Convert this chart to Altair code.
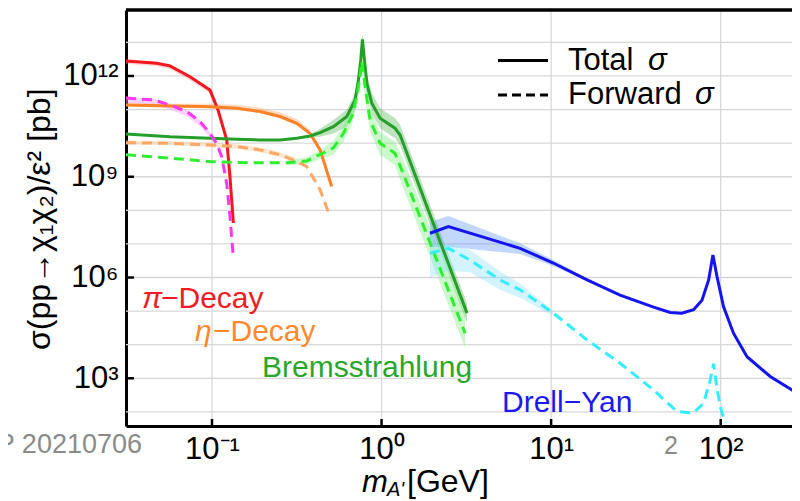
import altair as alt
import pandas as pd

# ---------------- data ----------------
# pi-decay, total
pi_x = [0.0311, 0.0472, 0.0565, 0.0741, 0.0973, 0.1084, 0.1221, 0.1276, 0.1337]
pi_y = [2.8e12, 2.4e12, 2.0e12, 9.5e11, 3.8e11, 9.8e10, 1.26e10, 1.0e9, 4.2e7]
pi_band_x = [0.0311, 0.0472, 0.0565, 0.0741, 0.0973, 0.1084]
pi_band_lo = [2.3e12, 1.95e12, 1.6e12, 7.5e11, 3.0e11, 8.5e10]
pi_band_hi = [3.1e12, 2.6e12, 2.2e12, 1.05e12, 4.2e11, 1.05e11]
# pi-decay, forward
pif_x = [0.0311, 0.0451, 0.0565, 0.071, 0.0849, 0.0973, 0.1066, 0.114, 0.1221, 0.1277, 0.1337]
pif_y = [2.2e11, 1.93e11, 1.37e11, 8.7e10, 4.4e10, 1.96e10, 9.8e9, 4.0e9, 6.4e8, 6.5e7, 3.6e6]
pif_band_x = [0.0311, 0.0451, 0.0565, 0.071, 0.0849, 0.0973, 0.1066]
pif_band_lo = [1.6e11, 1.4e11, 1.0e11, 6.3e10, 3.2e10, 1.5e10, 8.0e9]
pif_band_hi = [2.4e11, 2.1e11, 1.5e11, 9.5e10, 4.8e10, 2.1e10, 1.05e10]
# eta-decay, total
eta_x = [0.0311, 0.0565, 0.0973, 0.140, 0.192, 0.252, 0.316, 0.379, 0.434, 0.508]
eta_y = [1.37e11, 1.28e11, 1.22e11, 1.1e11, 8.7e10, 6.2e10, 3.9e10, 1.95e10, 6.3e9, 5.1e8]
eta_band_x = [0.0311, 0.0565, 0.0973, 0.140, 0.192, 0.252, 0.316, 0.379]
eta_band_lo = [1.27e11, 1.18e11, 1.12e11, 1.0e11, 7.8e10, 5.5e10, 3.4e10, 1.7e10]
eta_band_hi = [1.55e11, 1.5e11, 1.48e11, 1.4e11, 1.15e11, 8.3e10, 5.2e10, 2.5e10]
# eta-decay, forward
etaf_x = [0.0311, 0.0565, 0.0973, 0.140, 0.192, 0.252, 0.302, 0.362, 0.434, 0.497]
etaf_y = [1.03e10, 9.9e9, 8.8e9, 7.9e9, 6.3e9, 4.5e9, 3.2e9, 2.0e9, 4.1e8, 6.5e7]
etaf_band_x = [0.0311, 0.0565, 0.0973, 0.140, 0.192, 0.252, 0.302]
etaf_band_lo = [9.0e9, 8.6e9, 7.6e9, 6.8e9, 5.4e9, 3.8e9, 2.7e9]
etaf_band_hi = [1.2e10, 1.15e10, 1.03e10, 9.3e9, 7.5e9, 5.4e9, 3.9e9]
# Bremsstrahlung, total
br_x = [0.0311, 0.0565, 0.0973, 0.140, 0.192, 0.252, 0.316, 0.379, 0.434, 0.520, 0.624,
        0.698, 0.730, 0.754, 0.771, 0.793, 0.819, 0.876, 0.980, 1.20, 1.286, 3.19]
br_y = [1.88e10, 1.56e10, 1.4e10, 1.31e10, 1.24e10, 1.24e10, 1.4e10, 1.64e10, 2.05e10, 3.1e10, 6.2e10,
        1.93e11, 7.6e11, 3.0e12, 1.23e13, 3.0e12, 6.0e11, 1.54e11, 5.5e10, 2.8e10, 1.74e10, 8.7e4]
br_band_x = [0.379, 0.434, 0.520, 0.624, 0.698, 0.730, 0.754, 0.771, 0.793, 0.819, 0.876, 0.980, 1.20, 1.286, 3.19]
br_band_lo = [1.46e10, 1.55e10, 1.95e10, 3.1e10, 1.0e11, 4.8e11, 2.1e12, 9.8e12, 1.9e12, 3.0e11, 7.7e10, 2.8e10, 1.4e10, 8.7e9, 4.4e4]
br_band_hi = [1.84e10, 2.7e10, 4.9e10, 1.0e11, 3.0e11, 1.2e12, 4.2e12, 2.0e13, 4.8e12, 1.2e12, 3.1e11, 1.1e11, 5.6e10, 3.5e10, 1.7e5]
# Bremsstrahlung, forward
brf_x = [0.0311, 0.0565, 0.1, 0.175, 0.277, 0.362, 0.452, 0.520, 0.596, 0.667, 0.715, 0.747,
         0.764, 0.800, 0.855, 0.980, 1.20, 1.316, 3.11]
brf_y = [4.5e9, 3.6e9, 2.8e9, 2.6e9, 2.6e9, 2.95e9, 5.1e9, 7.2e9, 1.96e10, 6.2e10, 2.4e11, 9.5e11,
         2.7e12, 4.8e11, 4.9e10, 1.0e10, 5.0e9, 1.6e9, 2.2e4]
brf_band_x = [0.277, 0.362, 0.452, 0.520, 0.596, 0.667, 0.715, 0.747, 0.764, 0.800, 0.855, 0.980, 1.20, 1.316, 3.11]
brf_band_lo = [2.2e9, 2.3e9, 3.6e9, 4.5e9, 1.1e10, 3.5e10, 1.4e11, 6.0e11, 1.9e12, 2.4e11, 2.2e10, 4.5e9, 2.2e9, 6.0e8, 8.0e3]
brf_band_hi = [3.1e9, 3.8e9, 7.2e9, 1.15e10, 3.3e10, 1.1e11, 4.0e11, 1.5e12, 4.5e12, 9.6e11, 1.1e11, 2.2e10, 1.1e10, 4.0e9, 8.0e4]
# Drell-Yan, total
dy_x = [1.93, 2.48, 6.56, 10.3, 16.3, 25.5, 40.2, 50.4, 59.0, 69.2, 77.6, 84.9, 90.0, 95.1, 104, 119, 143, 196, 294]
dy_y = [2.08e7, 3.3e7, 7.4e6, 2.7e6, 8.5e5, 3.0e5, 1.31e5, 9.1e4, 8.7e4, 1.1e5, 2.1e5, 8.5e5, 4.7e6, 1.07e6,
        1.35e5, 2.2e4, 4.4e3, 1.13e3, 3.2e2]
dy_band_x = [1.93, 2.48, 6.56, 10.3, 16.3]
dy_band_lo = [8.3e6, 8.3e6, 5.0e6, 2.2e6, 7.8e5]
dy_band_hi = [4.6e7, 6.8e7, 1.05e7, 3.3e6, 9.3e5]
# Drell-Yan, forward
dyf_x = [1.93, 2.48, 3.33, 5.0, 6.56, 10.3, 16.3, 25.5, 40.2, 55.2, 69.2, 79.3, 86.8, 90.8, 95.1, 99.4, 106]
dyf_y = [5.3e6, 7.4e6, 3.3e6, 8.5e5, 4.3e5, 8.7e4, 1.38e4, 2.8e3, 4.5e2, 1.02e2, 93, 1.8e2, 8.9e2, 2.7e3,
         5.1e2, 1.44e2, 46]
dyf_band_x = [1.93, 2.48, 3.33, 5.0, 6.56, 10.3]
dyf_band_lo = [1.0e6, 1.6e6, 1.4e6, 4.3e5, 2.5e5, 7.0e4]
dyf_band_hi = [1.0e7, 1.0e7, 6.6e6, 1.5e6, 6.5e5, 1.05e5]

x_grid = [0.1, 1, 10, 100]
y_grid = [1e2, 1e3, 1e4, 1e5, 1e6, 1e7, 1e8, 1e9, 1e10, 1e11, 1e12, 1e13]
y_ticks = [1e3, 1e6, 1e9, 1e12]

# ---------------- layout ----------------
W, H = 666, 416
FONT = "Liberation Sans"

xscale = alt.Scale(type="log", domain=[0.0311, 263.4], nice=False)
yscale = alt.Scale(type="log", domain=[38, 9.2e13], nice=False)

xaxis = alt.Axis(values=x_grid, grid=False, ticks=False, domainColor="black", domainWidth=3,
                 labelFont=FONT, labelFontSize=31, labelColor="black", labelPadding=8,
                 labelExpr="datum.value < 0.5 ? '10⁻¹' : datum.value < 5 ? '10⁰' : datum.value < 50 ? '10¹' : '10²'",
                 title=None)
yaxis = alt.Axis(values=y_ticks, grid=False, ticks=False, domainColor="black", domainWidth=3,
                 labelFont=FONT, labelFontSize=31, labelColor="black", labelPadding=8,
                 labelExpr="datum.value < 10000 ? '10³' : datum.value < 10000000 ? '10⁶' : datum.value < 10000000000 ? '10⁹' : '10¹²'",
                 title=None)


def X(field):
    return alt.X(field, type="quantitative", scale=xscale, axis=xaxis)


def Y(field):
    return alt.Y(field, type="quantitative", scale=yscale, axis=yaxis)


def line(xs, ys, color, dash=None):
    df = pd.DataFrame({"x": xs, "y": ys})
    kw = dict(color=color, strokeWidth=3, clip=True)
    if dash:
        kw["strokeDash"] = dash
    return alt.Chart(df).mark_line(**kw).encode(x=X("x"), y=Y("y"))


def band(xs, lo, hi, color, opacity):
    df = pd.DataFrame({"x": xs, "lo": lo, "hi": hi})
    return alt.Chart(df).mark_area(color=color, opacity=opacity, clip=True).encode(
        x=X("x"), y=Y("lo"), y2="hi")


def text(s, x, y, size=30, color="black", align="left", baseline="alphabetic", angle=None, style=None):
    kw = dict(text=s, font=FONT, fontSize=size, color=color, align=align, baseline=baseline)
    if angle is not None:
        kw["angle"] = angle
    if style:
        kw["fontStyle"] = style
    return alt.Chart(pd.DataFrame({"a": [0]})).mark_text(**kw).encode(x=alt.value(x), y=alt.value(y))


grid_x = alt.Chart(pd.DataFrame({"v": x_grid})).mark_rule(color="#d8d8d8", strokeWidth=1.3).encode(x=X("v"))
grid_y = alt.Chart(pd.DataFrame({"v": y_grid})).mark_rule(color="#d8d8d8", strokeWidth=1.3, clip=True).encode(y=Y("v"))
tick_y = alt.Chart(pd.DataFrame({"v": y_ticks})).mark_rule(color="black", strokeWidth=2.5).encode(
    y=Y("v"), x=alt.value(0), x2=alt.value(8))
tick_x = alt.Chart(pd.DataFrame({"v": x_grid})).mark_rule(color="black", strokeWidth=2.5).encode(
    x=X("v"), y=alt.value(H - 7), y2=alt.value(H))
top_border = alt.Chart(pd.DataFrame({"a": [0]})).mark_rule(color="black", strokeWidth=3.5).encode(
    x=alt.value(0), x2=alt.value(W), y=alt.value(0))

RED, MAG, ORA, LORA = "#f5161f", "#ff38f0", "#ff8226", "#ffa866"
DGRN, LGRN, BLUE, CYAN = "#24a02a", "#2df02d", "#1414f0", "#33eeff"
DASH = [10, 6]

layers = [
    grid_x, grid_y,
    band(pi_band_x, pi_band_lo, pi_band_hi, "#ff8a8a", 0.35),
    band(pif_band_x, pif_band_lo, pif_band_hi, "#ff99ff", 0.45),
    band(eta_band_x, eta_band_lo, eta_band_hi, "#ffb27a", 0.45),
    band(etaf_band_x, etaf_band_lo, etaf_band_hi, "#ffcc99", 0.45),
    band(br_band_x, br_band_lo, br_band_hi, "#45b045", 0.35),
    band(brf_band_x, brf_band_lo, brf_band_hi, "#7ef07e", 0.4),
    band(dy_band_x, dy_band_lo, dy_band_hi, "#4d8ff5", 0.35),
    band(dyf_band_x, dyf_band_lo, dyf_band_hi, "#80e0ff", 0.35),
    line(pi_x, pi_y, RED),
    line(eta_x, eta_y, ORA),
    line(br_x, br_y, DGRN),
    line(dy_x, dy_y, BLUE),
    line(pif_x, pif_y, MAG, DASH),
    line(etaf_x, etaf_y, LORA, DASH),
    line(brf_x, brf_y, LGRN, DASH),
    line(dyf_x, dyf_y, CYAN, DASH),
    tick_y, tick_x, top_border,
    # legend
    alt.Chart(pd.DataFrame({"a": [0]})).mark_rule(color="black", strokeWidth=3).encode(
        x=alt.value(372), x2=alt.value(422), y=alt.value(50.5)),
    alt.Chart(pd.DataFrame({"a": [0]})).mark_rule(color="black", strokeWidth=3, strokeDash=[9, 5]).encode(
        x=alt.value(372), x2=alt.value(422), y=alt.value(85)),
    text("Total", 442, 50.5, size=31, baseline="middle"),
    text("σ", 522, 50.5, size=31, baseline="middle", style="italic"),
    text("Forward", 442, 85, size=31, baseline="middle"),
    text("σ", 569, 85, size=31, baseline="middle", style="italic"),
    # series labels
    text("π", 16, 298, size=30, color="#ee1c24", style="italic"),
    text("−Decay", 35, 298, size=30, color="#ee1c24"),
    text("η", 69, 330.5, size=30, color="#ff8a2e", style="italic"),
    text("−Decay", 87, 330.5, size=30, color="#ff8a2e"),
    text("Bremsstrahlung", 136, 367, size=30, color="#2aa62a"),
    text("Drell−Yan", 376, 401.5, size=30, color="#1a1af0"),
    # axis titles
    text("σ(pp→χ₁χ₂)/ε² [pb]", -86, 340, size=32, align="left", baseline="middle", angle=270),
    text("m", 236, 481.5, size=31, style="italic"),
    text("A'", 261, 485.5, size=20, style="italic"),
    text("[GeV]", 281, 481.5, size=32),
    # stray grey text in the reference
    text("P 20210706", 16, 443, size=27, color="#8a8a8a", align="right"),
    text("2", 545, 444, size=25, color="#8a8a8a", align="center"),
]

chart = alt.layer(*layers).properties(
    width=W, height=H,
    padding={"left": 118, "top": 2, "right": 0, "bottom": 75},
    autosize=alt.AutoSizeParams(type="none"),
).configure_view(stroke=None)

chart.save("out.html", embed_options={"renderer": "svg", "actions": False})
